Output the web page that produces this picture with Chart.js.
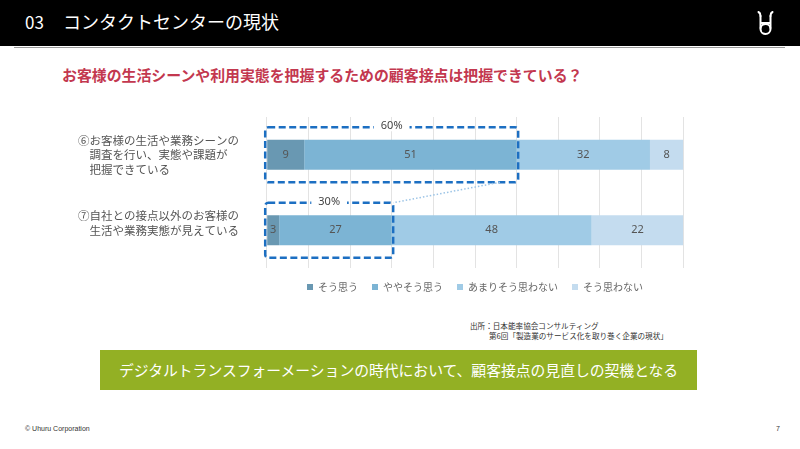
<!DOCTYPE html>
<html lang="ja">
<head>
<meta charset="utf-8">
<script src="https://cdn.jsdelivr.net/npm/chart.js@4.4.1/dist/chart.umd.min.js"></script>
<style>
  html, body { margin: 0; padding: 0; }
  body { width: 800px; height: 449px; position: relative; background: #fff; overflow: hidden;
         font-family: "Noto Sans CJK JP", "Noto Sans", sans-serif; }
  #header { position: absolute; left: 0; top: 0; width: 800px; height: 46px; background: #000; }
  #header .rule { position: absolute; left: 14px; top: 47px; width: 771px; height: 1px; background: #9a9a9a; }
  #header .num { position: absolute; left: 25px; top: 9px; color: #fff; font-size: 17px; }
  #header .ttl { position: absolute; left: 63px; top: 8px; color: #fff; font-size: 18px; }
  #logo { position: absolute; left: 752px; top: 8px; }
  #question { position: absolute; left: 62px; top: 64px; color: #c3384f; font-size: 14.9px; font-weight: bold; white-space: nowrap; }
  #chartBox { position: absolute; left: 78px; top: 112px; width: 620px; height: 190px; }
  #source { position: absolute; left: 470px; top: 321px; font-size: 7.6px; color: #333; line-height: 10px; white-space: nowrap; }
  #banner { position: absolute; left: 100px; top: 350px; width: 597px; height: 40px; background: #93b024;
            color: #fff; font-size: 14.8px; line-height: 40px; text-align: center; }
  #copy { position: absolute; left: 25px; top: 425px; font-size: 7px; color: #333; font-family: "Liberation Sans", sans-serif; }
  #page { position: absolute; left: 776px; top: 425px; font-size: 7px; color: #333; font-family: "Liberation Sans", sans-serif; }
</style>
</head>
<body>
<div id="header">
  <div class="num">03</div>
  <div class="ttl">コンタクトセンターの現状</div>
  <div class="rule"></div>
</div>
<svg id="logo" width="24" height="30" viewBox="0 0 24 30">
  <g fill="none" stroke="#fff" stroke-width="2" stroke-linecap="round">
    <path d="M8.5 8 L8.5 20 M18.5 8 L18.5 20 M8.5 15 L18.5 15"/>
    <path d="M8.5 8 Q8.5 5 6.5 4 M18.5 8 Q18.5 5 20.5 4"/>
    <circle cx="13.5" cy="21" r="5"/>
  </g>
</svg>
<div id="question">お客様の生活シーンや利用実態を把握するための顧客接点は把握できている？</div>
<div id="chartBox"><canvas id="chart"></canvas></div>
<div id="source">出所：日本能率協会コンサルティング<br>&emsp;&emsp;&ensp;第6回「製造業のサービス化を取り巻く企業の現状」</div>
<div id="banner">デジタルトランスフォーメーションの時代において、顧客接点の見直しの契機となる</div>
<div id="copy">© Uhuru Corporation</div>
<div id="page">7</div>

<script>
// question labels (one array of lines per bar)
const categories = [
    ["⑥お客様の生活や業務シーンの", "　調査を行い、実態や課題が", "　把握できている"],
    ["⑦自社との接点以外のお客様の", "　生活や業務実態が見えている", ""]
];
const seriesNames = ["そう思う", "ややそう思う", "あまりそう思わない", "そう思わない"];
const soOmou = [9, 3];
const yayaSoOmou = [51, 27];
const amariSoOmowanai = [32, 48];
const soOmowanai = [8, 22];
const seriesColors = ["#6998b2", "#7cb4d4", "#a0cbe6", "#c4dcef"];

const seriesValues = [soOmou, yayaSoOmou, amariSoOmowanai, soOmowanai];

// value labels in the middle of each segment
const valueLabels = {
    id: 'valueLabels',
    afterDatasetsDraw(chart) {
        const ctx = chart.ctx;
        ctx.save();
        ctx.font = '11px "Noto Sans", "Noto Sans CJK JP", sans-serif';
        ctx.fillStyle = '#555';
        ctx.textAlign = 'center';
        ctx.textBaseline = 'middle';
        chart.data.datasets.forEach((ds, i) => {
            chart.getDatasetMeta(i).data.forEach((bar, j) => {
                const p = bar.getProps(['x', 'y', 'base'], true);
                ctx.fillText(ds.data[j], (p.x + p.base) / 2, p.y);
            });
        });
        ctx.restore();
    }
};

// dashed boxes round the "positive" share of each bar
const highlightBoxes = {
    id: 'highlightBoxes',
    afterDatasetsDraw(chart) {
        const ctx = chart.ctx;
        const x = chart.scales.x;
        const y = chart.scales.y;
        const boxes = [];
        ctx.save();
        categories.forEach((c, i) => {
            const total = soOmou[i] + yayaSoOmou[i];
            const cy = y.getPixelForValue(i);
            const b = {
                left: x.getPixelForValue(0) - 1.5,
                right: x.getPixelForValue(total) + 1.5,
                top: cy - 27.5,
                bottom: cy + 27.5
            };
            boxes.push(b);
            ctx.strokeStyle = '#1c6fc2';
            ctx.lineWidth = 2.5;
            ctx.setLineDash([7, 3.5]);
            ctx.beginPath();
            ctx.roundRect(b.left, b.top, b.right - b.left, b.bottom - b.top, 3);
            ctx.stroke();

            const label = total + '%';
            ctx.font = '11px "Noto Sans", sans-serif';
            const w = ctx.measureText(label).width + 14;
            const mid = (b.left + b.right) / 2;
            ctx.fillStyle = '#fff';
            ctx.fillRect(mid - w / 2, b.top - 4, w, 8);
            ctx.fillStyle = '#444';
            ctx.textAlign = 'center';
            ctx.textBaseline = 'middle';
            ctx.fillText(label, mid, b.top - 1);
        });
        // dotted link from the first box to the second
        ctx.setLineDash([1.5, 2]);
        ctx.lineWidth = 1.5;
        ctx.strokeStyle = '#9cc4e6';
        ctx.beginPath();
        ctx.moveTo(x.getPixelForValue(56), boxes[0].bottom);
        ctx.lineTo(boxes[1].right, boxes[1].top);
        ctx.stroke();
        ctx.restore();
    }
};

const ctx = document.getElementById('chart').getContext('2d');
new Chart(ctx, {
    type: 'bar',
    data: {
        labels: categories,
        datasets: seriesNames.map((name, i) => ({
            label: name,
            data: seriesValues[i],
            backgroundColor: seriesColors[i],
            borderWidth: 0,
            barPercentage: 0.8,
            categoryPercentage: 0.5
        }))
    },
    options: {
        indexAxis: 'y',
        responsive: true,
        maintainAspectRatio: false,
        animation: false,
        layout: { padding: { top: 5, right: 14.7, left: 0, bottom: 0 } },
        scales: {
            x: {
                stacked: true,
                min: 0,
                max: 100,
                ticks: { display: false, stepSize: 10 },
                grid: { color: '#e3e3e3', drawTicks: false },
                border: { display: false }
            },
            y: {
                stacked: true,
                grid: { display: false },
                border: { display: false },
                ticks: {
                    crossAlign: 'far',
                    padding: 0,
                    color: '#555',
                    font: { family: '"Noto Sans CJK JP", sans-serif', size: 11.5, lineHeight: 1.25 }
                },
                afterFit(scale) {
                    scale.width = 188.7;
                    scale.paddingTop = 0;
                    scale.paddingBottom = 0;
                }
            }
        },
        plugins: {
            legend: {
                position: 'bottom',
                fullSize: false,
                labels: {
                    boxWidth: 6,
                    boxHeight: 6,
                    padding: 14,
                    color: '#666',
                    font: { family: '"Noto Sans CJK JP", sans-serif', size: 10 }
                }
            },
            tooltip: { enabled: false }
        }
    },
    plugins: [valueLabels, highlightBoxes]
});
</script>
</body>
</html>
